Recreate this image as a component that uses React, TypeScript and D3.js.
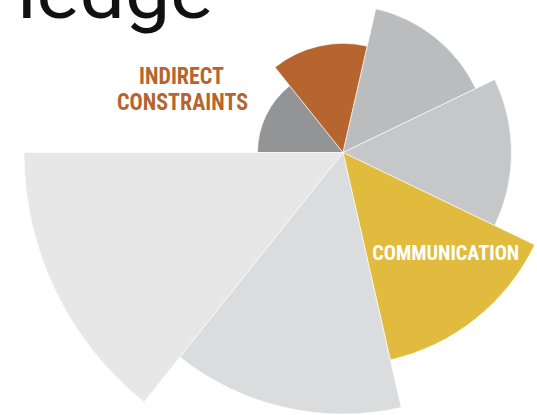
import React, { useEffect, useRef } from "react";
import * as d3 from "d3";

const categories = ["", "INDIRECT CONSTRAINTS", "", "", "COMMUNICATION", "", ""];
const values = [26.8, 34.2, 46.2, 52.8, 66.7, 82.0, 100];
const colors = ["#939496", "#b5652d", "#bbbcbe", "#c6c7c9", "#e1bb3d", "#dbdcdd", "#e6e7e6"];
const titleText = "ledge";

const W = 537;
const H = 415;

export default function App() {
  const ref = useRef<SVGSVGElement>(null);

  useEffect(() => {
    const svg = d3.select(ref.current);
    svg.selectAll("*").remove();

    const cx = 343;
    const cy = 152.5;
    const r = d3.scaleLinear().domain([0, 100]).range([0, 319]);
    const n = values.length;
    const a = d3
      .scaleLinear()
      .domain([0, n])
      .range([-Math.PI / 2, (3 * Math.PI) / 2]);

    const arc = d3.arc<any>();
    const g = svg.append("g").attr("transform", `translate(${cx},${cy})`);

    g.selectAll("path")
      .data(values)
      .join("path")
      .attr("d", (d, i) =>
        arc({
          innerRadius: 0,
          outerRadius: r(d),
          startAngle: a(i),
          endAngle: a(i + 1),
        }) as string
      )
      .attr("fill", (_, i) => colors[i])
      .attr("stroke", "#ffffff")
      .attr("stroke-width", 0.6)
      .attr("stroke-linejoin", "round");

    // title fragment
    svg
      .append("text")
      .attr("x", 17)
      .attr("y", 17.5)
      .attr("font-family", "Roboto, 'Open Sans', sans-serif")
      .attr("font-weight", 400)
      .attr("font-size", 74)
      .attr("fill", "#111")
      .attr("textLength", 196)
      .attr("lengthAdjust", "spacingAndGlyphs")
      .text(titleText);

    const font = "'Liberation Sans Narrow', 'Roboto Condensed', 'Arial Narrow', 'Liberation Sans', sans-serif";

    // INDIRECT CONSTRAINTS label
    const ic = categories[1].split(" ");
    const lines = [
      { t: ic[0], x: 181.5, y: 84, w: 85 },
      { t: ic[1], x: 182.5, y: 110, w: 131 },
    ];
    lines.forEach((l) => {
      svg
        .append("text")
        .attr("x", l.x)
        .attr("y", l.y)
        .attr("text-anchor", "middle")
        .attr("font-family", font)
        .attr("font-weight", 700)
        .attr("font-size", 23)
        .attr("fill", "#b5652d")
        .attr("textLength", l.w)
        .attr("lengthAdjust", "spacingAndGlyphs")
        .text(l.t);
    });

    svg
      .append("text")
      .attr("x", 445.7)
      .attr("y", 260)
      .attr("text-anchor", "middle")
      .attr("font-family", font)
      .attr("font-weight", 700)
      .attr("font-size", 21)
      .attr("fill", "#ffffff")
      .attr("textLength", 147)
      .attr("lengthAdjust", "spacingAndGlyphs")
      .text(categories[4]);
  }, []);

  return (
    <svg
      ref={ref}
      width={W}
      height={H}
      style={{ position: "absolute", left: 0, top: 0, background: "#fff" }}
    />
  );
}
